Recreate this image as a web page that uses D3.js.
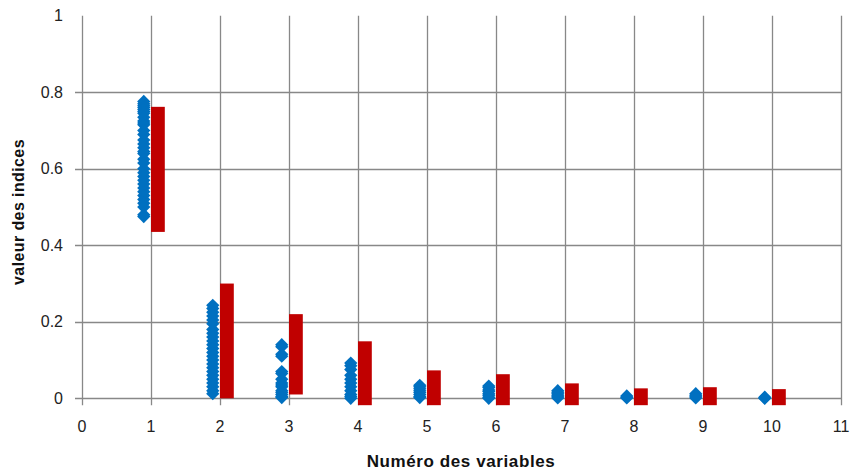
<!DOCTYPE html>
<html><head><meta charset="utf-8">
<script src="https://cdn.jsdelivr.net/npm/d3@7"></script>
<style>body{margin:0;background:#fff}svg{display:block}</style>
</head><body>
<svg id="c" width="853" height="473"></svg>
<script>
const variables = [1,2,3,4,5,6,7,8,9,10];
const xTicks = [0,1,2,3,4,5,6,7,8,9,10,11];
const yTicks = [0,0.2,0.4,0.6,0.8,1];
const yTickLabels = ["0","0.2","0.4","0.6","0.8","1"];
// scatter of index values per variable (blue)
const indexValues = [
  [0.776,0.77,0.765,0.76,0.755,0.75,0.745,0.735,0.725,0.72,0.715,0.70,0.69,0.675,0.665,0.655,0.645,0.64,0.625,0.615,0.60,0.59,0.58,0.57,0.56,0.55,0.54,0.53,0.52,0.51,0.50,0.48,0.475],
  [0.243,0.235,0.225,0.215,0.205,0.195,0.18,0.17,0.16,0.15,0.14,0.13,0.12,0.11,0.10,0.09,0.08,0.07,0.06,0.05,0.04,0.03,0.02,0.012],
  [0.14,0.135,0.115,0.11,0.07,0.065,0.05,0.04,0.035,0.03,0.02,0.015,0.01,0.005,0.002],
  [0.092,0.085,0.075,0.06,0.05,0.04,0.03,0.02,0.01,0.005,0.0],
  [0.034,0.03,0.025,0.02,0.015,0.01,0.005,0.002],
  [0.032,0.028,0.022,0.018,0.012,0.008,0.003,0.0],
  [0.02,0.016,0.012,0.008,0.004,0.001],
  [0.006,0.003,0.001],
  [0.012,0.008,0.004,0.001],
  [0.003,0.001,0.0]
];
// red range bars
const rangeLow  = [0.435,0.0,0.01,-0.018,-0.018,-0.018,-0.018,-0.018,-0.018,-0.018];
const rangeHigh = [0.762,0.30,0.22,0.149,0.073,0.063,0.039,0.026,0.029,0.024];

const svg = d3.select("#c");
const x = d3.scaleLinear().domain([0,11]).range([82,841]);
const y = d3.scaleLinear().domain([0,1]).range([398.3,15.8]);
const grid = "#888888";

// horizontal grid
svg.append("g").selectAll("line").data(yTicks.filter(d=>d<1)).join("line")
  .attr("x1",x(0)-7).attr("x2",x(11)).attr("y1",d=>Math.round(y(d))+0.5).attr("y2",d=>Math.round(y(d))+0.5)
  .attr("stroke",grid).attr("stroke-width",1.3);
// vertical grid
svg.append("g").selectAll("line").data(xTicks).join("line")
  .attr("x1",d=>Math.round(x(d))+0.5).attr("x2",d=>Math.round(x(d))+0.5)
  .attr("y1",y(1)).attr("y2",y(0)+7)
  .attr("stroke",grid).attr("stroke-width",1.3);

// y tick labels
svg.append("g").selectAll("text").data(yTicks).join("text")
  .attr("x",63).attr("y",d=>y(d)).attr("dy","0.35em").attr("text-anchor","end")
  .attr("font-family","Liberation Sans, Arial, sans-serif").attr("font-size",16).attr("fill","#222")
  .text((d,i)=>yTickLabels[i]);
// x tick labels
svg.append("g").selectAll("text").data(xTicks).join("text")
  .attr("x",d=>x(d)).attr("y",426).attr("dy","0.35em").attr("text-anchor","middle")
  .attr("font-family","Liberation Sans, Arial, sans-serif").attr("font-size",16).attr("fill","#222")
  .text(d=>d);

// red bars
svg.append("g").selectAll("rect").data(variables).join("rect")
  .attr("x",d=>x(d)).attr("width",x(0.2)-x(0))
  .attr("y",(d,i)=>y(rangeHigh[i])).attr("height",(d,i)=>y(rangeLow[i])-y(rangeHigh[i]))
  .attr("fill","#C00000");

// blue diamonds
const pts = [];
variables.forEach((v,i)=>indexValues[i].forEach(val=>pts.push({v,val})));
svg.append("g").selectAll("path").data(pts).join("path")
  .attr("d",d3.symbol().type(d3.symbolSquare).size(88))
  .attr("transform",d=>`translate(${x(d.v-0.105)},${y(d.val)}) rotate(45)`)
  .attr("fill","#0070C0");

// axis titles
svg.append("text").attr("x",461).attr("y",461).attr("dy","0.35em").attr("text-anchor","middle")
  .attr("font-family","Liberation Sans, Arial, sans-serif").attr("font-size",17).attr("font-weight","bold").attr("fill","#111")
  .attr("letter-spacing",0.6)
  .text("Numéro des variables");
svg.append("text").attr("transform","translate(18,212) rotate(-90)").attr("dy","0.35em").attr("text-anchor","middle")
  .attr("font-family","Liberation Sans, Arial, sans-serif").attr("font-size",16).attr("font-weight","bold").attr("fill","#111")
  .attr("letter-spacing",0.4)
  .text("valeur des indices");
</script>
</body></html>
